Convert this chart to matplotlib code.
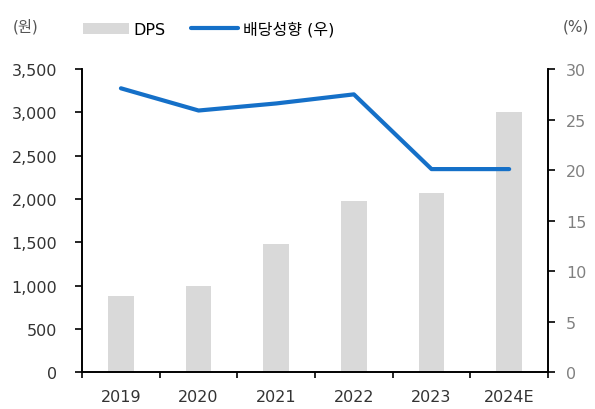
import numpy as np
import matplotlib.pyplot as plt

plt.rcParams['font.family'] = ['DejaVu Sans', 'Noto Sans CJK KR']

years = ['2019', '2020', '2021', '2022', '2023', '2024E']
dps = [874, 990, 1475, 1975, 2065, 3000]
payout = [28.1, 25.9, 26.6, 27.5, 20.1, 20.1]

bar_color = '#d9d9d9'
line_color = '#1570c8'

fig = plt.figure(figsize=(5.95, 4.1), dpi=100)
ax = fig.add_axes([0.138, 0.090, 0.783, 0.739])
ax2 = ax.twinx()

x = np.arange(len(years))
bars = ax.bar(x, dps, width=0.33, color=bar_color, zorder=1)
line, = ax2.plot(x, payout, color=line_color, lw=3, solid_capstyle='round')

ax.set_xlim(-0.5, len(years) - 0.5)
ax.set_ylim(0, 3500)
ax.set_yticks(np.arange(0, 3501, 500))
ax.set_yticklabels([f'{v:,}' for v in range(0, 3501, 500)])
ax2.set_ylim(0, 30)
ax2.set_yticks(np.arange(0, 31, 5))

ax.set_xticks(x)
ax.set_xticklabels(years)
ax.set_xticks(np.arange(-0.5, len(years), 1), minor=True)
ax.tick_params(axis='x', which='major', length=0, pad=12, labelsize=11.5, labelcolor='#333333')
ax.tick_params(axis='x', which='minor', length=4, width=1.2, direction='out')
ax.tick_params(axis='y', length=5, width=1.2, direction='out', labelsize=11.5, labelcolor='#333333', pad=13)
ax2.tick_params(axis='y', length=5, width=1.2, direction='out', labelsize=11.5, labelcolor='#808080', pad=8)

for a in (ax, ax2):
    a.spines['top'].set_visible(False)
    for s in ('left', 'right', 'bottom'):
        a.spines[s].set_linewidth(1.2)

fig.text(0.022, 0.935, '(원)', fontsize=11, color='#555555', va='center')
fig.text(0.945, 0.935, '(%)', fontsize=11, color='#555555', va='center')

fig.legend([bars, line], ['DPS', '배당성향 (우)'], loc='center', bbox_to_anchor=(0.35, 0.927),
           ncol=2, frameon=False, fontsize=11.5, handlelength=2.9, handletextpad=0.3,
           columnspacing=1.6, handleheight=0.7)

fig.savefig('out.png', dpi=100)
